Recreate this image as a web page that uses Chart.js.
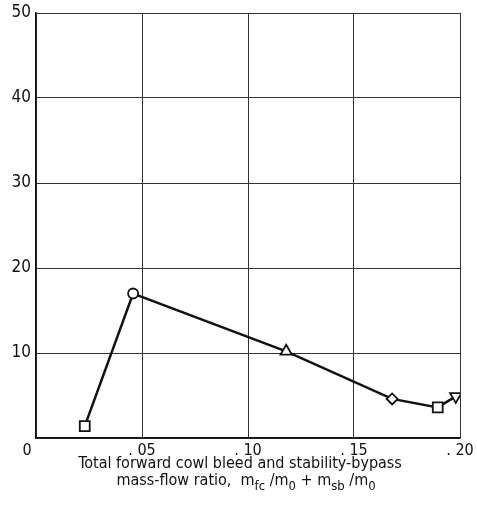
<!DOCTYPE html>
<html>
<head>
<meta charset="utf-8">
<script src="https://cdn.jsdelivr.net/npm/chart.js@4/dist/chart.umd.min.js"></script>
<style>
  html, body { margin: 0; padding: 0; background: #fff; }
  #wrap { width: 477px; height: 511px; }
</style>
</head>
<body>
<div id="wrap"><canvas id="myChart" width="477" height="511"></canvas></div>
<script>
// bleed mass-flow ratio and the plotted quantity, one entry per run
let massFlow = [0.023, 0.0458, 0.118, 0.168, 0.1895, 0.198];
let yValues = [1.4, 17.0, 10.2, 4.6, 3.6, 4.9];
let markers = ['rect', 'circle', 'triangle', 'rectRot', 'rect', 'triangle'];
let markerRot = [0, 0, 0, 0, 0, 180];
let markerSize = [7, 5, 6.5, 5.5, 7, 6.5];

let xTicks = [0, 0.05, 0.10, 0.15, 0.20];
let xTickLabels = ['', '. 05', '. 10', '. 15', '. 20'];
let yTicks = [0, 10, 20, 30, 40, 50];
let yTickLabels = ['', '10', '20', '30', '40', '50'];

let fontFam = '"Liberation Sans Narrow", "DejaVu Sans Condensed", "Liberation Sans", sans-serif';

let pts = massFlow.map((v, i) => ({ x: v, y: yValues[i] }));

// draws the corner "0" and the two-line axis caption with subscripts
let captionPlugin = {
    id: 'caption',
    afterDraw(chart) {
        let ctx = chart.ctx;
        let xs = chart.scales.x;
        let ys = chart.scales.y;
        ctx.save();
        ctx.fillStyle = '#111';
        ctx.textBaseline = 'middle';
        ctx.textAlign = 'center';
        ctx.font = '16px ' + fontFam;
        ctx.fillText('0', xs.left - 9, ys.bottom + 13);

        let cx = (xs.left + xs.right) / 2 - 8;
        ctx.font = '16px ' + fontFam;
        ctx.fillText('Total forward cowl bleed and stability-bypass', cx, ys.bottom + 26);

        // second line, pieces: [text, isSub]
        let parts = [['mass-flow ratio,  m', false], ['fc', true], [' /m', false], ['0', true],
                     [' + m', false], ['sb', true], [' /m', false], ['0', true]];
        let big = '16px ' + fontFam, small = '13px ' + fontFam;
        let total = 0;
        parts.forEach(p => { ctx.font = p[1] ? small : big; total += ctx.measureText(p[0]).width; });
        let x = cx + 6 - total / 2;
        let y = ys.bottom + 43;
        ctx.textAlign = 'left';
        parts.forEach(p => {
            ctx.font = p[1] ? small : big;
            ctx.fillText(p[0], x, p[1] ? y + 6 : y);
            x += ctx.measureText(p[0]).width;
        });
        ctx.restore();
    }
};

let ctx = document.getElementById('myChart').getContext('2d');

let chart = new Chart(ctx, {
    type: 'scatter',
    data: {
        datasets: [{
            data: pts,
            showLine: true,
            borderColor: '#111',
            borderWidth: 2.5,
            pointStyle: markers,
            rotation: markerRot,
            pointRadius: markerSize,
            pointBackgroundColor: '#fff',
            pointBorderColor: '#111',
            pointBorderWidth: 1.8
        }]
    },
    options: {
        responsive: false,
        animation: false,
        layout: { padding: { top: 13, right: 17, left: 0, bottom: 0 } },
        plugins: {
            legend: { display: false },
            tooltip: { enabled: false }
        },
        scales: {
            x: {
                type: 'linear',
                min: 0,
                max: 0.2,
                afterBuildTicks: s => { s.ticks = xTicks.map(v => ({ value: v })); },
                afterFit: s => { s.height = 73; s.paddingLeft = 0; s.paddingRight = 0; },
                ticks: {
                    color: '#111',
                    font: { size: 16, family: fontFam },
                    padding: 3,
                    callback: (v, i) => xTickLabels[i]
                },
                grid: { color: '#333', lineWidth: 1, drawTicks: false },
                border: { color: '#111', width: 1.5 }
            },
            y: {
                min: 0,
                max: 50,
                afterBuildTicks: s => { s.ticks = yTicks.map(v => ({ value: v })); },
                afterFit: s => { s.width = 36; s.paddingTop = 0; s.paddingBottom = 0; },
                ticks: {
                    color: '#111',
                    font: { size: 17, family: fontFam },
                    padding: 5,
                    callback: (v, i) => yTickLabels[i]
                },
                grid: { color: '#333', lineWidth: 1, drawTicks: false },
                border: { color: '#111', width: 1.5 }
            }
        }
    },
    plugins: [captionPlugin]
});
</script>
</body>
</html>
